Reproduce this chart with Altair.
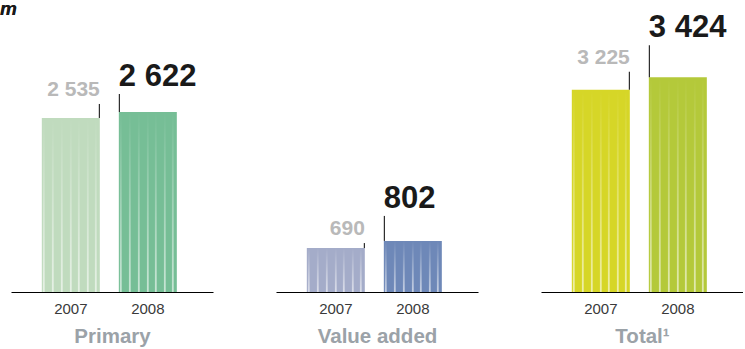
import altair as alt
import pandas as pd

years = ["2007", "2008"]
categories = ["Primary", "Value added", "Total¹"]
values_2007 = [2535, 690, 3225]
values_2008 = [2622, 802, 3424]
labels_2007 = ["2 535", "690", "3 225"]
labels_2008 = ["2 622", "802", "3 424"]

# styling (not data)
colors_2007 = ["#c0dbbe", "#a4acc9", "#d6d627"]
colors_2008 = ["#76be96", "#6e88b8", "#b4c93a"]
y_max = [4239, 4570, 4640]
lead_2007 = [14, 5, 18]
lead_2008 = [18, 25, 32]
stripe_offsets = [-27, -18, -9, 0, 8, 17, 25]
FONT = "Liberation Sans"

stripe_fill = {
    "gradient": "linear", "x1": 0, "y1": 0, "x2": 0, "y2": 1,
    "stops": [
        {"offset": 0, "color": "rgba(255,255,255,0)"},
        {"offset": 1, "color": "rgba(255,255,255,0.6)"},
    ],
}


def panel(i):
    df = pd.DataFrame({
        "year": years,
        "value": [values_2007[i], values_2008[i]],
        "label": [labels_2007[i], labels_2008[i]],
    })
    base = alt.Chart(df)
    x = alt.X(
        "year:N",
        title=categories[i],
        sort=years,
        scale=alt.Scale(domain=years, paddingInner=0.247, paddingOuter=0.435, align=0.46),
        axis=alt.Axis(
            labelAngle=0, ticks=False, domainColor="#000000", domainWidth=1.2,
            labelFont=FONT, labelFontSize=15, labelColor="#3a3a3a", labelPadding=9,
            titleFont=FONT, titleFontSize=20.5, titleFontWeight="bold",
            titleColor="#9ba2a8", titlePadding=10,
        ),
    )
    y = alt.Y(
        "value:Q",
        scale=alt.Scale(domain=[0, y_max[i]], nice=False),
        axis=None,
    )
    d07 = base.transform_filter(alt.datum.year == "2007")
    d08 = base.transform_filter(alt.datum.year == "2008")
    layers = [
        d07.mark_bar(width=58, color=colors_2007[i]).encode(x=x, y=y),
        d08.mark_bar(width=58, color=colors_2008[i]).encode(x=x, y=y),
    ]
    for o in stripe_offsets:
        layers.append(base.mark_bar(width=1.8, xOffset=o, color=stripe_fill).encode(x=x, y=y))

    layers.append(d07.mark_rule(color="#000000", strokeWidth=1, xOffset=28.5, y2Offset=-lead_2007[i]).encode(
        x=x, y=y, y2="value:Q"))
    layers.append(d08.mark_rule(color="#000000", strokeWidth=1, xOffset=-28.5, y2Offset=-lead_2008[i]).encode(
        x=x, y=y, y2="value:Q"))
    layers.append(d07.mark_text(align="right", baseline="alphabetic", dx=29, dy=-(lead_2007[i] + 8),
                                font=FONT, fontSize=21, fontWeight="bold", color="#b9b9b9").encode(
        x=x, y=y, text="label:N"))
    layers.append(d08.mark_text(align="left", baseline="alphabetic", dx=-29, dy=-(lead_2008[i] + 8),
                                font=FONT, fontSize=31, fontWeight="bold", color="#1a1a1a").encode(
        x=x, y=y, text="label:N"))
    if i == 0:
        layers.append(base.mark_text(align="left", baseline="alphabetic", font=FONT, fontSize=19,
                                     fontStyle="italic", fontWeight="bold", color="#1a1a1a").encode(
            x=alt.value(-11), y=alt.value(14), text=alt.value("m")))
    return alt.layer(*layers).properties(width=202, height=291)


chart = alt.hconcat(panel(0), panel(1), panel(2), spacing=63).properties(
    padding={"left": 0, "top": 0, "right": 0, "bottom": 0},
    background="#ffffff",
).configure_view(stroke=None, strokeWidth=0)

chart.save("out.html", embed_options={"renderer": "svg", "actions": False})
